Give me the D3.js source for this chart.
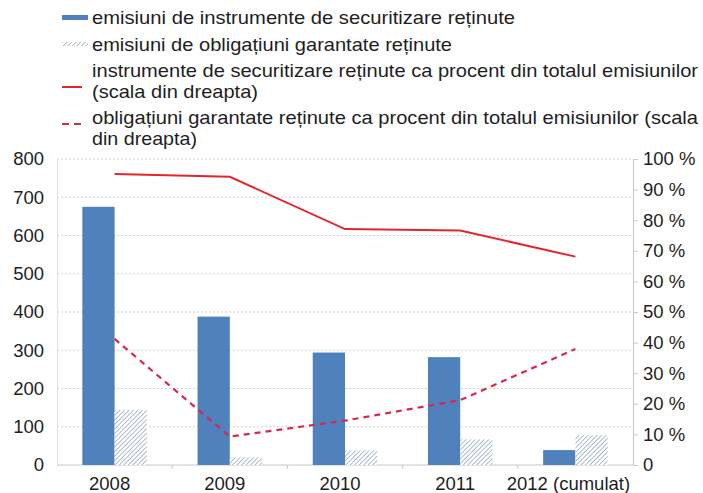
<!DOCTYPE html>
<html>
<head>
<meta charset="utf-8">
<script src="https://cdn.jsdelivr.net/npm/d3@7"></script>
<style>
    body { margin: 0; background: #fff; }
    text { font-family: "Liberation Sans", Arial, Helvetica, sans-serif; fill: #1e1e1e; }
</style>
</head>
<body>
<div id="chart"></div>
<script>
// Data
let categories = ["2008", "2009", "2010", "2011", "2012 (cumulat)"];
let securitizare = [675, 388, 294, 282, 39];
let obligatiuni = [144, 20, 38, 67, 78];
let pctSecuritizare = [95.1, 94.2, 77.1, 76.6, 68.1];
let pctObligatiuni = [41.2, 9.3, 14.5, 21.2, 37.9];

let leftTicks = [0, 100, 200, 300, 400, 500, 600, 700, 800];
let rightTicks = [0, 10, 20, 30, 40, 50, 60, 70, 80, 90, 100];

let legendLines = [
    ["emisiuni de instrumente de securitizare reținute"],
    ["emisiuni de obligațiuni garantate reținute"],
    ["instrumente de securitizare reținute ca procent din totalul emisiunilor", "(scala din dreapta)"],
    ["obligațiuni garantate reținute ca procent din totalul emisiunilor (scala", "din dreapta)"]
];

// Colors
let blue = "#4f81bd";
let hatch = "#8fa4bb";
let red = "#e2262c";
let crimson = "#d6284e";

let W = 703, H = 493;
let m = { t: 159, r: 70, b: 28, l: 57 };

let svg = d3.select("#chart")
    .append("svg")
    .attr("width", W)
    .attr("height", H);

// Hatch pattern for the second series
let defs = svg.append("defs");
let pat = defs.append("pattern")
    .attr("id", "hatch")
    .attr("patternUnits", "userSpaceOnUse")
    .attr("width", 3.2)
    .attr("height", 3.2)
    .attr("patternTransform", "rotate(45)");
pat.append("rect").attr("width", 3.2).attr("height", 3.2).attr("fill", "#fff");
pat.append("line")
    .attr("x1", 0).attr("y1", 0).attr("x2", 0).attr("y2", 3.2)
    .attr("stroke", hatch)
    .attr("stroke-width", 1.4);

// Scales
let x = d3.scaleBand()
    .domain(categories)
    .range([m.l, W - m.r])
    .paddingInner(0)
    .paddingOuter(0);

let y = d3.scaleLinear().domain([0, 800]).range([H - m.b, m.t]);
let y2 = d3.scaleLinear().domain([0, 100]).range([H - m.b, m.t]);

let bw = x.bandwidth() * 0.28;
let cx = function (c) { return x(c) + x.bandwidth() / 2; };

// Gridlines (dotted)
svg.append("g")
    .selectAll("line")
    .data(leftTicks.slice(1))
    .enter().append("line")
    .attr("x1", m.l)
    .attr("x2", W - m.r)
    .attr("y1", function (d) { return y(d); })
    .attr("y2", function (d) { return y(d); })
    .attr("stroke", "#cfcfcf")
    .attr("stroke-width", 1)
    .attr("stroke-dasharray", "2,2");

// Left axis (no ticks, faint line)
let gl = svg.append("g")
    .attr("transform", "translate(" + m.l + ",0)")
    .call(d3.axisLeft(y).tickValues(leftTicks).tickSize(0).tickPadding(13));
gl.select(".domain").attr("stroke", "#e0e0e0");
gl.selectAll("text").style("font-size", "18.5px").attr("fill", "#1e1e1e");

// Right axis
let gr = svg.append("g")
    .attr("transform", "translate(" + (W - m.r) + ",0)")
    .call(d3.axisRight(y2).tickValues(rightTicks).tickSize(5).tickPadding(5)
        .tickFormat(function (d) { return d === 0 ? "0" : d + " %"; }));
gr.select(".domain").attr("stroke", "#c8c8c8");
gr.selectAll(".tick line").attr("stroke", "#c8c8c8");
gr.selectAll("text").style("font-size", "18.5px").attr("fill", "#1e1e1e");

// Bottom axis: ticks between the groups
let gb = svg.append("g")
    .attr("transform", "translate(0," + (H - m.b) + ")");
gb.append("line")
    .attr("x1", m.l).attr("x2", W - m.r)
    .attr("stroke", "#c8c8c8");
gb.selectAll("line.sep")
    .data(categories.slice(1))
    .enter().append("line")
    .attr("class", "sep")
    .attr("x1", function (c) { return x(c); })
    .attr("x2", function (c) { return x(c); })
    .attr("y1", 0)
    .attr("y2", 4)
    .attr("stroke", "#c8c8c8");
gb.selectAll("text")
    .data(categories)
    .enter().append("text")
    .attr("x", function (c, i) { return cx(c) - (i === 4 ? 7 : 5); })
    .attr("y", 25)
    .attr("text-anchor", "middle")
    .style("font-size", "18.5px")
    .text(function (c) { return c; });

// Bars
svg.selectAll("rect.sec")
    .data(securitizare)
    .enter().append("rect")
    .attr("class", "sec")
    .attr("x", function (d, i) { return cx(categories[i]) - bw; })
    .attr("y", function (d) { return y(d); })
    .attr("width", bw)
    .attr("height", function (d) { return y(0) - y(d); })
    .attr("fill", blue);

svg.selectAll("rect.obl")
    .data(obligatiuni)
    .enter().append("rect")
    .attr("class", "obl")
    .attr("x", function (d, i) { return cx(categories[i]); })
    .attr("y", function (d) { return y(d); })
    .attr("width", bw)
    .attr("height", function (d) { return y(0) - y(d); })
    .attr("fill", "url(#hatch)");

// Lines on the right scale
let line = d3.line()
    .x(function (d, i) { return cx(categories[i]); })
    .y(function (d) { return y2(d); });

svg.append("path")
    .datum(pctSecuritizare)
    .attr("d", line)
    .attr("fill", "none")
    .attr("stroke", red)
    .attr("stroke-width", 2);

svg.append("path")
    .datum(pctObligatiuni)
    .attr("d", line)
    .attr("fill", "none")
    .attr("stroke", crimson)
    .attr("stroke-width", 2.2)
    .attr("stroke-dasharray", "6,5");

// Legend
let rowY = [24, 51, 77, 124];
// measured widths of each legend line in the picture
let rowW = [[423, 0], [360, 0], [606, 166], [606, 105]];
let lg = svg.append("g");

lg.append("rect").attr("x", 62).attr("y", 15).attr("width", 26).attr("height", 5).attr("fill", blue);
lg.append("rect").attr("x", 62).attr("y", 42).attr("width", 26).attr("height", 4).attr("fill", "url(#hatch)");
lg.append("line").attr("x1", 62).attr("x2", 82).attr("y1", 87).attr("y2", 87)
    .attr("stroke", red).attr("stroke-width", 2);
lg.append("line").attr("x1", 62).attr("x2", 84).attr("y1", 124).attr("y2", 124)
    .attr("stroke", crimson).attr("stroke-width", 2).attr("stroke-dasharray", "7,5");

legendLines.forEach(function (rows, i) {
    let t = lg.append("text")
        .attr("x", 92)
        .attr("y", rowY[i])
        .style("font-size", "18.5px");
    rows.forEach(function (r, j) {
        t.append("tspan")
            .attr("x", 92)
            .attr("dy", j === 0 ? 0 : 21)
            .attr("textLength", rowW[i][j])
            .attr("lengthAdjust", "spacingAndGlyphs")
            .text(r);
    });
});
</script>
</body>
</html>
